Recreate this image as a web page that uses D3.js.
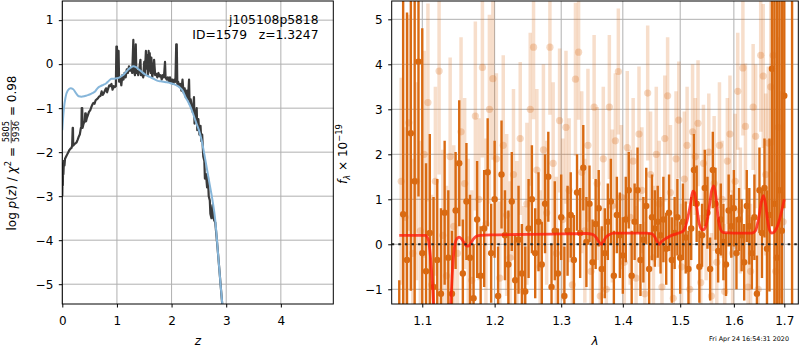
<!DOCTYPE html>
<html><head><meta charset="utf-8">
<script src="https://cdn.jsdelivr.net/npm/d3@7"></script>
<style>body{margin:0;background:#fff}svg{display:block}text{font-family:"DejaVu Sans",sans-serif}</style>
</head><body>
<svg id="c" width="800" height="350"></svg>
<script>
// ---------- DATA ----------
const leftXTicks = [0, 1, 2, 3, 4];
const leftYTicks = [-5, -4, -3, -2, -1, 0, 1];
const rightXTicks = [1.1, 1.2, 1.3, 1.4, 1.5, 1.6, 1.7];
const rightYTicks = [-1, 0, 1, 2, 3, 4, 5];
const titleLines = ["j105108p5818", "ID=1579   z=1.3247"];
const chi2Num = "5805", chi2Den = "5936", chi2Val = "0.98";
const timestamp = "Fri Apr 24 16:54:31 2020";

// p(z) (dark line)
const pzZ = [0.000,0.005,0.010,0.015,0.020,0.030,0.040,0.050,0.070,0.090,0.110,0.130,0.150,0.170,0.180,0.190,0.195,0.200,0.220,0.240,0.260,0.280,0.300,0.320,0.340,0.350,0.355,0.365,0.370,0.390,0.410,0.420,0.430,0.435,0.450,0.470,0.490,0.510,0.530,0.550,0.570,0.590,0.610,0.630,0.650,0.670,0.700,0.720,0.740,0.760,0.780,0.800,0.820,0.840,0.860,0.880,0.900,0.920,0.940,0.960,0.980,0.990,1.000,1.010,1.020,1.030,1.040,1.060,1.080,1.100,1.120,1.140,1.160,1.180,1.200,1.220,1.240,1.260,1.280,1.300,1.310,1.330,1.345,1.355,1.370,1.390,1.410,1.430,1.440,1.460,1.480,1.500,1.510,1.530,1.540,1.555,1.565,1.580,1.590,1.600,1.615,1.630,1.645,1.660,1.680,1.700,1.720,1.740,1.760,1.780,1.800,1.820,1.840,1.860,1.880,1.890,1.910,1.930,1.950,1.970,1.990,2.010,2.030,2.050,2.070,2.085,2.095,2.105,2.120,2.140,2.160,2.180,2.200,2.220,2.240,2.260,2.280,2.300,2.320,2.330,2.350,2.370,2.390,2.410,2.420,2.440,2.460,2.470,2.490,2.510,2.530,2.545,2.560,2.580,2.600,2.610,2.630,2.650,2.665,2.680,2.700,2.710,2.730,2.750,2.760,2.780,2.800,2.840,2.880,2.920,2.960];
const pzLog = [-3.00,-2.55,-2.75,-2.25,-2.50,-2.20,-2.30,-2.15,-2.10,-2.05,-2.00,-1.95,-1.92,-1.90,-1.85,-1.45,-1.45,-1.85,-1.82,-1.80,-1.78,-1.72,-1.65,-1.60,-1.45,-1.45,-1.00,-1.00,-1.45,-1.35,-1.30,-1.12,-1.12,-1.30,-1.22,-1.15,-1.08,-1.05,-0.98,-0.92,-0.88,-0.90,-0.82,-0.80,-0.78,-0.74,-0.72,-0.62,-0.70,-0.66,-0.60,-0.55,-0.64,-0.55,-0.48,-0.50,-0.45,-0.58,-0.50,-0.52,-0.50,0.40,0.40,-0.30,0.30,0.30,-0.40,-0.30,-0.48,-0.25,-0.35,-0.20,-0.30,-0.12,-0.20,-0.05,-0.15,-0.10,-0.20,0.55,-0.15,-0.25,0.45,-0.20,-0.15,-0.25,-0.10,0.10,-0.25,-0.20,-0.30,0.05,-0.25,0.30,-0.10,0.20,-0.25,0.30,-0.15,0.25,-0.20,0.15,-0.30,-0.20,0.10,-0.25,-0.22,-0.30,-0.20,-0.28,-0.25,-0.35,-0.25,-0.30,0.05,-0.30,-0.35,-0.30,-0.40,-0.30,-0.40,-0.35,-0.45,-0.35,-0.40,0.45,0.45,-0.45,-0.40,-0.50,-0.45,-0.60,-0.35,-0.65,-0.55,-0.75,-0.60,-0.80,-0.35,-0.90,-0.80,-1.00,-1.10,-0.75,-1.35,-1.20,-1.00,-1.50,-1.25,-1.60,-1.40,-1.75,-1.60,-2.10,-2.20,-2.60,-2.50,-2.80,-2.55,-3.00,-3.10,-3.40,-3.50,-3.20,-3.45,-3.55,-3.60,-4.15,-4.75,-5.35,-5.95];

// smooth template p(z) (blue line)
const fitZ = [0.000,0.010,0.030,0.060,0.100,0.150,0.200,0.250,0.300,0.350,0.400,0.450,0.500,0.550,0.600,0.650,0.700,0.750,0.800,0.850,0.900,0.950,1.000,1.050,1.100,1.150,1.200,1.250,1.300,1.350,1.400,1.450,1.500,1.550,1.600,1.650,1.700,1.750,1.800,1.850,1.900,1.950,2.000,2.050,2.100,2.150,2.200,2.250,2.300,2.350,2.400,2.450,2.500,2.550,2.600,2.650,2.700,2.750,2.800,2.850,2.900,2.950,3.000];
const fitLog = [-1.50,-1.30,-1.00,-0.75,-0.60,-0.55,-0.57,-0.66,-0.73,-0.74,-0.73,-0.71,-0.69,-0.66,-0.62,-0.54,-0.50,-0.47,-0.44,-0.38,-0.33,-0.33,-0.32,-0.30,-0.26,-0.20,-0.13,-0.08,-0.05,-0.07,-0.12,-0.17,-0.22,-0.26,-0.29,-0.32,-0.35,-0.38,-0.39,-0.40,-0.41,-0.42,-0.44,-0.46,-0.49,-0.53,-0.60,-0.74,-0.85,-0.98,-1.15,-1.33,-1.50,-1.73,-2.05,-2.40,-2.75,-3.10,-3.55,-4.30,-5.05,-5.75,-6.45];

// spectrum, first set (dark)
const darkWave = [1.070,1.075,1.080,1.085,1.090,1.095,1.100,1.105,1.110,1.115,1.120,1.125,1.130,1.135,1.140,1.145,1.150,1.155,1.160,1.165,1.170,1.175,1.180,1.185,1.190,1.195,1.200,1.205,1.210,1.215,1.220,1.225,1.230,1.235,1.240,1.245,1.250,1.255,1.260,1.265,1.270,1.275,1.280,1.285,1.290,1.295,1.300,1.305,1.310,1.315,1.320,1.325,1.330,1.335,1.340,1.345,1.350,1.355,1.360,1.365,1.370,1.375,1.380,1.385,1.390,1.395,1.400,1.405,1.410,1.415,1.420,1.425,1.430,1.435,1.440,1.445,1.450,1.455,1.460,1.465,1.470,1.475,1.480,1.485,1.490,1.495,1.500,1.505,1.510,1.515,1.520,1.525,1.530,1.535,1.540,1.545,1.550,1.555,1.560,1.565,1.570,1.575,1.580,1.585,1.590,1.595,1.600,1.605,1.610,1.615,1.620,1.625,1.630,1.635,1.640,1.645,1.650,1.655,1.660,1.665,1.670,1.675,1.680,1.685,1.690,1.695,1.700,1.716];
const darkFlux = [-1.6,0.67,-0.35,2.47,1.4,4.06,-0.2,-0.6,0.25,-0.95,-0.35,-1.1,0.7,-0.3,-1.1,0.75,1.8,-0.65,0.95,-0.3,-1.2,0.55,-0.7,0.35,1.6,-0.2,1.0,-1.15,1.55,0.2,-0.45,0.95,-0.8,0.1,-0.65,-1.05,0.35,1.0,-0.2,0.5,-0.45,0.9,1.5,-0.95,0.3,-0.65,0.6,-1.15,0.3,0.65,-0.35,1.15,0.25,1.7,0.05,0.9,-0.4,0.45,0.8,-0.55,-0.2,0.5,0.95,-0.7,0.65,0.2,-0.25,0.55,1.2,-0.7,0.5,1.2,-0.35,0.1,0.85,-0.55,0.6,0.35,0.5,0.2,0.55,-0.1,0.7,-0.35,0.25,0.6,-0.3,0.5,0.15,-0.55,0.35,1.65,0.9,-0.5,0.2,1.25,0.7,-0.55,1.65,0.9,-0.15,0.55,0.05,-0.45,0.75,0.4,0.8,-0.2,0.55,0.2,-0.4,0.85,0.4,-0.2,0.6,-1.1,1.2,0.25,1.25,-0.1,0.65,3.9,0.9,-0.3,1.2,0.3,3.3,7.5];
const darkErr = [0.8,6.0,5.5,3.5,6.0,3.0,5.0,2.4,2.2,2.0,1.8,1.9,1.6,1.5,1.4,1.3,1.4,1.2,1.3,1.4,1.2,1.3,1.1,1.3,1.2,1.1,1.3,1.1,1.2,1.0,1.2,1.1,1.0,1.2,1.1,1.0,1.1,1.2,1.0,1.1,0.95,1.1,1.0,0.95,1.1,1.0,0.95,1.1,1.0,0.95,1.0,0.85,1.0,0.95,1.0,0.85,0.95,1.0,0.85,0.95,1.0,0.85,0.95,1.0,0.85,0.95,0.85,0.95,0.85,1.0,0.85,0.95,0.8,0.95,0.85,0.8,0.95,0.85,0.8,0.85,0.95,0.8,0.85,0.95,0.8,0.85,0.8,0.85,0.8,0.85,0.7,0.8,0.85,0.8,0.7,0.85,0.8,0.7,0.85,0.8,0.7,0.8,0.85,0.7,0.8,0.7,0.85,0.8,0.7,0.8,0.85,0.8,0.85,0.8,0.95,0.85,0.95,1.0,1.1,1.3,1.7,3.5,6.0,6.0,6.0,6.0,2.5,9.0];

// spectrum, second set (light)
const lightWave = [1.0725,1.0775,1.0825,1.0875,1.0925,1.0975,1.1025,1.1075,1.1125,1.1175,1.1225,1.1275,1.1325,1.1375,1.1425,1.1475,1.1525,1.1575,1.1625,1.1675,1.1725,1.1775,1.1825,1.1875,1.1925,1.1975,1.2025,1.2075,1.2125,1.2175,1.2225,1.2275,1.2325,1.2375,1.2425,1.2475,1.2525,1.2575,1.2625,1.2675,1.2725,1.2775,1.2825,1.2875,1.2925,1.2975,1.3025,1.3075,1.3125,1.3175,1.3225,1.3275,1.3325,1.3375,1.3425,1.3475,1.3525,1.3575,1.3625,1.3675,1.3725,1.3775,1.3825,1.3875,1.3925,1.3975,1.4025,1.4075,1.4125,1.4175,1.4225,1.4275,1.4325,1.4375,1.4425,1.4475,1.4525,1.4575,1.4625,1.4675,1.4725,1.4775,1.4825,1.4875,1.4925,1.4975,1.5025,1.5075,1.5125,1.5175,1.5225,1.5275,1.5325,1.5375,1.5425,1.5475,1.5525,1.5575,1.5625,1.5675,1.5725,1.5775,1.5825,1.5875,1.5925,1.5975,1.6025,1.6075,1.6125,1.6175,1.6225,1.6275,1.6325,1.6375,1.6425,1.6475,1.6525,1.6575,1.6625,1.6675,1.6725,1.6775,1.6825,1.6875,1.6925,1.6975];
const lightFlux = [1.4,0.6,2.7,-0.2,1.4,0.3,2.0,3.15,-0.9,1.4,3.85,0.2,-0.7,1.95,0.4,-0.2,2.5,1.35,0.1,-0.8,2.85,1.0,3.93,0.45,3.0,3.68,1.9,-0.75,2.2,0.65,-0.3,1.55,0.05,2.35,-1.05,0.9,3.0,4.38,1.65,-0.5,2.1,0.7,4.38,1.8,-0.2,2.75,0.55,2.6,1.2,-0.9,3.67,4.27,1.6,0.3,2.2,-0.6,3.05,1.35,-1.15,1.9,-1.0,3.05,0.85,2.3,3.84,1.05,-0.4,2.15,0.6,1.85,-0.75,2.45,1.2,-1.1,3.36,1.55,-0.3,2.0,0.9,-0.95,2.35,3.3,1.15,-1.2,1.9,2.76,-0.5,1.45,2.2,-1.0,2.5,1.95,2.69,-0.85,1.8,0.6,2.05,-1.15,1.35,-0.4,2.2,1.0,-1.05,1.85,2.45,-0.2,1.4,3.4,0.75,3.92,2.62,-0.95,-0.6,3.05,2.4,-1.0,4.2,3.74,1.55,2.25,3.5,4.2,-0.6,2.6,1.1,0.5];
const lightErr = [2.3,2.0,2.4,2.1,2.2,2.0,2.3,2.2,2.0,2.1,2.3,1.9,2.0,2.2,1.8,2.0,2.1,1.9,1.8,2.0,2.1,1.8,2.0,1.9,2.1,1.8,1.9,1.7,2.0,1.8,1.7,1.9,1.8,1.7,1.9,1.8,1.7,1.6,1.8,1.7,1.9,1.6,1.5,1.8,1.7,1.6,1.8,1.7,1.6,1.5,1.7,1.5,1.8,1.6,1.7,1.5,1.6,1.7,1.5,1.6,1.4,1.6,1.7,1.5,1.4,1.6,1.5,1.7,1.5,1.4,1.6,1.5,1.4,1.6,1.5,1.4,1.6,1.5,1.4,1.5,1.4,1.3,1.5,1.4,1.5,1.3,1.4,1.5,1.3,1.4,1.5,1.3,1.4,1.5,1.3,1.4,1.3,1.4,1.5,1.3,1.4,1.3,1.5,1.4,1.3,1.4,1.5,1.3,1.4,1.5,1.4,1.6,1.5,1.4,1.6,1.5,1.7,1.6,1.8,1.7,1.9,2.0,2.2,2.0,2.3,2.2];

// best-fit model (red)
const modelWave = [1.070,1.100,1.104,1.108,1.111,1.114,1.117,1.120,1.125,1.130,1.135,1.138,1.141,1.144,1.147,1.150,1.153,1.157,1.160,1.163,1.166,1.170,1.174,1.180,1.200,1.250,1.300,1.340,1.350,1.356,1.360,1.3645,1.368,1.372,1.378,1.385,1.400,1.440,1.450,1.455,1.459,1.4625,1.466,1.472,1.480,1.490,1.500,1.506,1.512,1.518,1.523,1.526,1.530,1.534,1.538,1.542,1.547,1.553,1.558,1.562,1.566,1.570,1.575,1.580,1.600,1.635,1.642,1.648,1.654,1.658,1.662,1.666,1.670,1.675,1.680,1.686,1.692,1.697,1.700];
const modelFlux = [0.20,0.20,0.20,0.10,-0.30,-1.00,-2.00,-3.00,-4.00,-4.00,-3.00,-1.50,-0.50,0.00,0.13,0.16,0.12,0.03,-0.03,-0.04,0.02,0.12,0.18,0.20,0.21,0.22,0.23,0.24,0.22,0.15,0.06,0.00,0.07,0.16,0.22,0.25,0.25,0.25,0.23,0.16,0.06,0.00,0.05,0.11,0.17,0.22,0.26,0.30,0.50,0.85,1.18,1.15,0.85,0.50,0.35,0.32,0.40,0.80,1.20,1.30,1.05,0.60,0.32,0.26,0.25,0.25,0.30,0.55,0.95,1.08,0.90,0.55,0.32,0.25,0.28,0.40,0.62,0.85,1.00];

// ---------- DRAWING ----------
const NB = '\u00a0';
const keep = s => s.replace(/ /g, NB);
const svg = d3.select('#c');
const FONT = '"DejaVu Sans", sans-serif';
const L = {x0: 62.3, x1: 333.3, y0: 1, y1: 304};
const R = {x0: 391.7, x1: 798.3, y0: 1, y1: 304};
const xL = d3.scaleLinear().domain([0, 4.96]).range([L.x0, L.x1]);
const yL = d3.scaleLinear().domain([-5.45, 1.435]).range([L.y1, L.y0]);
const xR = d3.scaleLog().domain([1.0603, 1.7289]).range([R.x0, R.x1]);
const yR = d3.scaleLinear().domain([-1.327, 5.407]).range([R.y1, R.y0]);

const defs = svg.append('defs');
function clip(id, b) {
  defs.append('clipPath').attr('id', id).append('rect')
    .attr('x', b.x0).attr('y', b.y0).attr('width', b.x1 - b.x0).attr('height', b.y1 - b.y0);
}
clip('clipL', L); clip('clipR', R);

function grid(b, xs, ys, xt, yt) {
  const g = svg.append('g').attr('stroke', '#b0b0b0').attr('stroke-width', 1);
  xt.forEach(v => g.append('line').attr('x1', xs(v)).attr('x2', xs(v)).attr('y1', b.y0).attr('y2', b.y1));
  yt.forEach(v => g.append('line').attr('x1', b.x0).attr('x2', b.x1).attr('y1', ys(v)).attr('y2', ys(v)));
}
function axes(b, xs, ys, xt, yt, xfmt, yfmt) {
  const gx = svg.append('g').attr('transform', `translate(0,${b.y1})`)
    .call(d3.axisBottom(xs).tickValues(xt).tickFormat(xfmt).tickSize(3.5));
  gx.select('.domain').remove();
  gx.attr('font-family', FONT).attr('font-size', 12);
  gx.selectAll('text').attr('dy', null).attr('y', 21).attr('fill', '#000');
  gx.selectAll('line').attr('stroke', '#000');
  const gy = svg.append('g').attr('transform', `translate(${b.x0},0)`)
    .call(d3.axisLeft(ys).tickValues(yt).tickFormat(yfmt).tickSize(3.5));
  gy.select('.domain').remove();
  gy.attr('font-family', FONT).attr('font-size', 12);
  gy.selectAll('text').attr('x', -9).attr('dy', '0.32em').attr('fill', '#000');
  gy.selectAll('line').attr('stroke', '#000');
  svg.append('rect').attr('x', b.x0).attr('y', b.y0).attr('width', b.x1 - b.x0).attr('height', b.y1 - b.y0)
    .attr('fill', 'none').attr('stroke', '#000').attr('stroke-width', 1);
}

// ----- left panel -----
grid(L, xL, yL, leftXTicks, leftYTicks);
const gL = svg.append('g').attr('clip-path', 'url(#clipL)');
const fitPts = fitZ.map((z, i) => [z, fitLog[i]]);
const pzPts = pzZ.map((z, i) => [z, pzLog[i]]);
gL.append('path').datum(pzPts)
  .attr('d', d3.line().x(d => xL(d[0])).y(d => yL(d[1])))
  .attr('fill', 'none').attr('stroke', '#3a3a3a').attr('stroke-width', 2.2).attr('stroke-linejoin', 'round');
gL.append('path').datum(fitPts)
  .attr('d', d3.line().curve(d3.curveMonotoneX).x(d => xL(d[0])).y(d => yL(d[1])))
  .attr('fill', 'none').attr('stroke', '#86b6da').attr('stroke-width', 2);
axes(L, xL, yL, leftXTicks, leftYTicks, d3.format('d'), d3.format('d'));

titleLines.forEach((t, i) => {
  svg.append('text').attr('x', 318.5).attr('y', 24 + 15 * i).attr('text-anchor', 'end')
    .attr('font-size', 12.3).text(keep(t));
});

// ----- right panel -----
grid(R, xR, yR, rightXTicks, rightYTicks);
const gR = svg.append('g').attr('clip-path', 'url(#clipR)');
const ORANGE = '#d96a12';
const nL = Math.min(lightWave.length, lightFlux.length, lightErr.length);
const light = d3.range(nL).map(i => ({w: lightWave[i], f: lightFlux[i], e: lightErr[i]}));
const nD = Math.min(darkWave.length, darkFlux.length, darkErr.length);
const dark = d3.range(nD).map(i => ({w: darkWave[i], f: darkFlux[i], e: darkErr[i]}));

gR.append('g').selectAll('line').data(light).join('line')
  .attr('x1', d => xR(d.w)).attr('x2', d => xR(d.w))
  .attr('y1', d => yR(d.f - d.e)).attr('y2', d => yR(d.f + d.e))
  .attr('stroke', ORANGE).attr('stroke-opacity', 0.22).attr('stroke-width', 3.5);
gR.append('g').selectAll('circle').data(light).join('circle')
  .attr('cx', d => xR(d.w)).attr('cy', d => yR(d.f)).attr('r', 3.6)
  .attr('fill', ORANGE).attr('fill-opacity', 0.26);
gR.append('g').selectAll('line').data(dark).join('line')
  .attr('x1', d => xR(d.w)).attr('x2', d => xR(d.w))
  .attr('y1', d => yR(d.f - d.e)).attr('y2', d => yR(d.f + d.e))
  .attr('stroke', ORANGE).attr('stroke-width', 2.4);
gR.append('g').selectAll('circle').data(dark).join('circle')
  .attr('cx', d => xR(d.w)).attr('cy', d => yR(d.f)).attr('r', 3.2)
  .attr('fill', ORANGE);
const modelPts = modelWave.map((w, i) => [w, modelFlux[i]]);
gR.append('path').datum(modelPts)
  .attr('d', d3.line().curve(d3.curveMonotoneX).x(d => xR(d[0])).y(d => yR(d[1])))
  .attr('fill', 'none').attr('stroke', '#ff1a0a').attr('stroke-opacity', 0.78).attr('stroke-width', 2.8);
gR.append('line').attr('x1', R.x0).attr('x2', R.x1).attr('y1', yR(0)).attr('y2', yR(0))
  .attr('stroke', '#222').attr('stroke-width', 2).attr('stroke-dasharray', '2.5,4.1');
axes(R, xR, yR, rightXTicks, rightYTicks, d3.format('.1f'), d3.format('d'));

// ----- axis labels -----
svg.append('text').attr('x', (L.x0 + L.x1) / 2).attr('y', 345).attr('text-anchor', 'middle')
  .attr('font-size', 12).attr('font-style', 'italic').text('z');
svg.append('text').attr('x', (R.x0 + R.x1) / 2).attr('y', 345).attr('text-anchor', 'middle')
  .attr('font-size', 12).attr('font-style', 'italic').text('λ');
svg.append('text').attr('x', 789).attr('y', 341).attr('text-anchor', 'end')
  .attr('font-size', 6.4).text(timestamp);

// left y label (rotated mathtext)
(function () {
  const g = svg.append('g').attr('transform', 'translate(15.5,153) rotate(-90)');
  const inner = g.append('g');
  const fs = 12, sfs = 8.4;
  const a = inner.append('text').attr('font-size', fs);
  a.append('tspan').text(keep('log '));
  a.append('tspan').attr('font-style', 'italic').text('p');
  a.append('tspan').text('(');
  a.append('tspan').attr('font-style', 'italic').text('z');
  a.append('tspan').text(keep(') / '));
  a.append('tspan').attr('font-style', 'italic').text('χ');
  a.append('tspan').attr('font-size', sfs).attr('dy', -5).text('2');
  a.append('tspan').attr('dy', 5).text(keep(' = '));
  const wa = a.node().getComputedTextLength();
  const num = inner.append('text').attr('font-size', sfs).attr('text-anchor', 'middle').text(chi2Num);
  const den = inner.append('text').attr('font-size', sfs).attr('text-anchor', 'middle').text(chi2Den);
  const wf = Math.max(num.node().getComputedTextLength(), den.node().getComputedTextLength()) + 2;
  num.attr('x', wa + wf / 2).attr('y', -6.3);
  den.attr('x', wa + wf / 2).attr('y', 3.6);
  inner.append('line').attr('x1', wa).attr('x2', wa + wf).attr('y1', -4.3).attr('y2', -4.3)
    .attr('stroke', '#000').attr('stroke-width', 0.7);
  const c = inner.append('text').attr('font-size', fs).attr('x', wa + wf).text(keep(' = ' + chi2Val));
  const total = wa + wf + c.node().getComputedTextLength();
  inner.attr('transform', `translate(${-total / 2},0)`);
})();

// right y label
(function () {
  const t = svg.append('text').attr('transform', 'translate(347,154) rotate(-90)')
    .attr('text-anchor', 'middle').attr('font-size', 12);
  t.append('tspan').attr('font-style', 'italic').text('f');
  t.append('tspan').attr('font-style', 'italic').attr('font-size', 8.4).attr('dy', 3).text('λ');
  t.append('tspan').attr('dy', -3).text(keep(' × 10'));
  t.append('tspan').attr('font-size', 8.4).attr('dy', -5).text('−19');
})();
</script>
</body></html>
